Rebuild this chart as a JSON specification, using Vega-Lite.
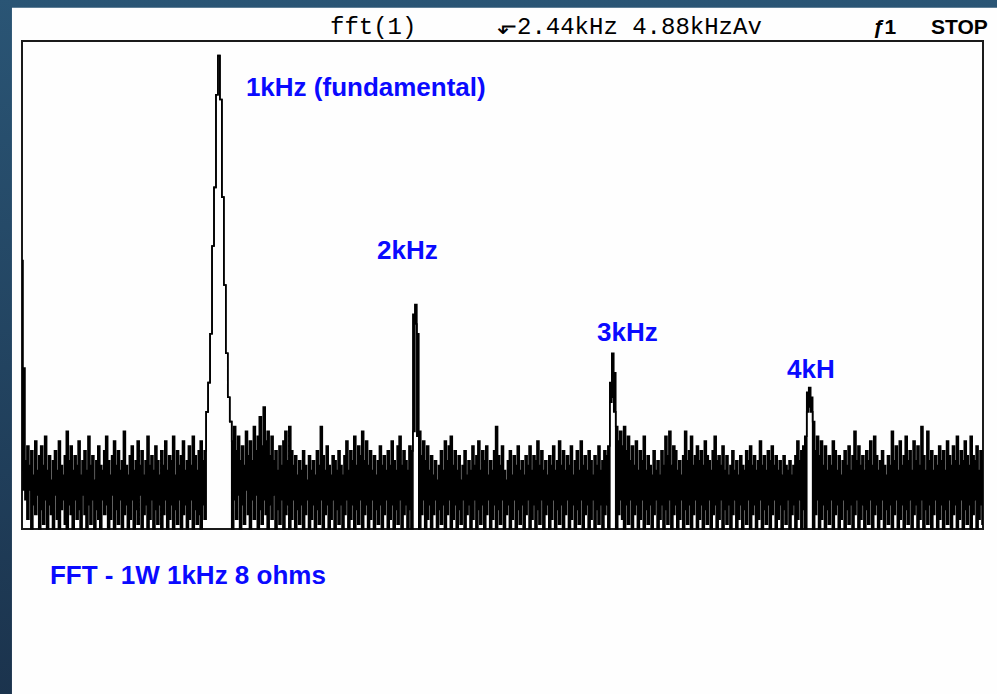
{
  "$schema": "https://vega.github.io/schema/vega-lite/v6.json",
  "width": 961,
  "height": 488,
  "autosize": {"type": "none"},
  "padding": {"left": 22, "top": 41, "right": 14, "bottom": 165},
  "background": "#24496a",
  "config": {"view": {"stroke": null}},
  "datasets": {
    "spectrum": [
      {"f":0,"lo":12,"hi":55},{"f":10,"lo":8,"hi":33},{"f":20,"lo":6,"hi":14},{"f":30,"lo":2,"hi":17},{"f":40,"lo":8,"hi":13},{"f":50,"lo":0,"hi":16},{"f":60,"lo":5,"hi":11},{"f":70,"lo":3,"hi":18},{"f":80,"lo":7,"hi":12},{"f":90,"lo":0,"hi":15},
      {"f":100,"lo":4,"hi":17},{"f":110,"lo":1,"hi":13},{"f":120,"lo":6,"hi":19},{"f":130,"lo":0,"hi":12},{"f":140,"lo":5,"hi":15},{"f":150,"lo":3,"hi":10},{"f":160,"lo":0,"hi":14},{"f":170,"lo":7,"hi":16},{"f":180,"lo":2,"hi":12},{"f":190,"lo":0,"hi":18},
      {"f":200,"lo":4,"hi":13},{"f":210,"lo":6,"hi":11},{"f":220,"lo":1,"hi":15},{"f":230,"lo":0,"hi":20},{"f":240,"lo":5,"hi":14},{"f":250,"lo":3,"hi":17},{"f":260,"lo":0,"hi":12},{"f":270,"lo":6,"hi":15},{"f":280,"lo":2,"hi":13},{"f":290,"lo":4,"hi":18},
      {"f":300,"lo":0,"hi":11},{"f":310,"lo":7,"hi":14},{"f":320,"lo":3,"hi":16},{"f":330,"lo":0,"hi":12},{"f":340,"lo":5,"hi":19},{"f":350,"lo":1,"hi":13},{"f":360,"lo":6,"hi":15},{"f":370,"lo":0,"hi":10},{"f":380,"lo":4,"hi":14},{"f":390,"lo":2,"hi":17},
      {"f":400,"lo":0,"hi":13},{"f":410,"lo":6,"hi":12},{"f":420,"lo":3,"hi":16},{"f":430,"lo":5,"hi":19},{"f":440,"lo":0,"hi":14},{"f":450,"lo":2,"hi":11},{"f":460,"lo":7,"hi":15},{"f":470,"lo":0,"hi":18},{"f":480,"lo":4,"hi":13},{"f":490,"lo":1,"hi":16},
      {"f":500,"lo":6,"hi":12},{"f":510,"lo":0,"hi":14},{"f":520,"lo":3,"hi":20},{"f":530,"lo":5,"hi":13},{"f":540,"lo":0,"hi":11},{"f":550,"lo":2,"hi":15},{"f":560,"lo":6,"hi":17},{"f":570,"lo":0,"hi":12},{"f":580,"lo":4,"hi":14},{"f":590,"lo":1,"hi":18},
      {"f":600,"lo":7,"hi":13},{"f":610,"lo":0,"hi":16},{"f":620,"lo":3,"hi":11},{"f":630,"lo":5,"hi":14},{"f":640,"lo":0,"hi":19},{"f":650,"lo":2,"hi":13},{"f":660,"lo":6,"hi":15},{"f":670,"lo":0,"hi":12},{"f":680,"lo":4,"hi":17},{"f":690,"lo":1,"hi":14},
      {"f":700,"lo":5,"hi":11},{"f":710,"lo":0,"hi":16},{"f":720,"lo":3,"hi":13},{"f":730,"lo":6,"hi":18},{"f":740,"lo":0,"hi":12},{"f":750,"lo":2,"hi":15},{"f":760,"lo":5,"hi":14},{"f":770,"lo":0,"hi":19},{"f":780,"lo":4,"hi":11},{"f":790,"lo":1,"hi":16},
      {"f":800,"lo":6,"hi":13},{"f":810,"lo":0,"hi":15},{"f":820,"lo":3,"hi":18},{"f":830,"lo":5,"hi":12},{"f":840,"lo":0,"hi":14},{"f":850,"lo":2,"hi":17},{"f":860,"lo":6,"hi":13},{"f":870,"lo":0,"hi":19},{"f":880,"lo":4,"hi":15},{"f":890,"lo":1,"hi":12},
      {"f":900,"lo":3,"hi":16},{"f":910,"lo":0,"hi":18},{"f":920,"lo":5,"hi":14},{"f":930,"lo":2,"hi":16},{"f":940,"lo":24,"hi":24},{"f":950,"lo":30,"hi":30},{"f":960,"lo":40,"hi":40},{"f":970,"lo":58,"hi":58},{"f":980,"lo":70,"hi":70},{"f":990,"lo":89,"hi":89},
      {"f":1000,"lo":97,"hi":97},{"f":1010,"lo":88,"hi":88},{"f":1020,"lo":68,"hi":68},{"f":1030,"lo":50,"hi":50},{"f":1040,"lo":36,"hi":36},{"f":1050,"lo":27,"hi":27},{"f":1060,"lo":22,"hi":22},{"f":1070,"lo":0,"hi":18},{"f":1080,"lo":6,"hi":21},{"f":1090,"lo":2,"hi":16},
      {"f":1100,"lo":7,"hi":19},{"f":1110,"lo":0,"hi":14},{"f":1120,"lo":5,"hi":17},{"f":1130,"lo":1,"hi":13},{"f":1140,"lo":8,"hi":20},{"f":1150,"lo":3,"hi":15},{"f":1160,"lo":0,"hi":18},{"f":1170,"lo":6,"hi":14},{"f":1180,"lo":2,"hi":21},{"f":1190,"lo":7,"hi":16},
      {"f":1200,"lo":0,"hi":19},{"f":1210,"lo":4,"hi":23},{"f":1220,"lo":1,"hi":17},{"f":1230,"lo":6,"hi":25},{"f":1240,"lo":3,"hi":18},{"f":1250,"lo":0,"hi":20},{"f":1260,"lo":5,"hi":15},{"f":1270,"lo":2,"hi":19},{"f":1280,"lo":7,"hi":14},{"f":1290,"lo":0,"hi":16},
      {"f":1300,"lo":4,"hi":12},{"f":1310,"lo":1,"hi":17},{"f":1320,"lo":6,"hi":13},{"f":1330,"lo":0,"hi":18},{"f":1340,"lo":3,"hi":20},{"f":1350,"lo":5,"hi":14},{"f":1360,"lo":0,"hi":21},{"f":1370,"lo":2,"hi":16},{"f":1380,"lo":6,"hi":13},{"f":1390,"lo":0,"hi":15},
      {"f":1400,"lo":4,"hi":11},{"f":1410,"lo":1,"hi":14},{"f":1420,"lo":5,"hi":12},{"f":1430,"lo":0,"hi":16},{"f":1440,"lo":3,"hi":13},{"f":1450,"lo":6,"hi":10},{"f":1460,"lo":0,"hi":15},{"f":1470,"lo":2,"hi":12},{"f":1480,"lo":5,"hi":14},{"f":1490,"lo":0,"hi":11},
      {"f":1500,"lo":4,"hi":16},{"f":1510,"lo":1,"hi":13},{"f":1520,"lo":6,"hi":21},{"f":1530,"lo":0,"hi":15},{"f":1540,"lo":3,"hi":12},{"f":1550,"lo":5,"hi":17},{"f":1560,"lo":0,"hi":13},{"f":1570,"lo":2,"hi":11},{"f":1580,"lo":6,"hi":15},{"f":1590,"lo":0,"hi":14},
      {"f":1600,"lo":4,"hi":12},{"f":1610,"lo":1,"hi":16},{"f":1620,"lo":5,"hi":13},{"f":1630,"lo":0,"hi":11},{"f":1640,"lo":3,"hi":15},{"f":1650,"lo":6,"hi":18},{"f":1660,"lo":0,"hi":12},{"f":1670,"lo":2,"hi":16},{"f":1680,"lo":5,"hi":14},{"f":1690,"lo":0,"hi":19},
      {"f":1700,"lo":4,"hi":13},{"f":1710,"lo":1,"hi":17},{"f":1720,"lo":6,"hi":15},{"f":1730,"lo":0,"hi":20},{"f":1740,"lo":3,"hi":14},{"f":1750,"lo":5,"hi":18},{"f":1760,"lo":0,"hi":13},{"f":1770,"lo":2,"hi":16},{"f":1780,"lo":6,"hi":12},{"f":1790,"lo":0,"hi":15},
      {"f":1800,"lo":4,"hi":11},{"f":1810,"lo":1,"hi":14},{"f":1820,"lo":5,"hi":17},{"f":1830,"lo":0,"hi":13},{"f":1840,"lo":3,"hi":15},{"f":1850,"lo":6,"hi":12},{"f":1860,"lo":0,"hi":16},{"f":1870,"lo":2,"hi":13},{"f":1880,"lo":5,"hi":18},{"f":1890,"lo":0,"hi":14},
      {"f":1900,"lo":4,"hi":12},{"f":1910,"lo":1,"hi":17},{"f":1920,"lo":6,"hi":19},{"f":1930,"lo":0,"hi":13},{"f":1940,"lo":3,"hi":16},{"f":1950,"lo":5,"hi":14},{"f":1960,"lo":0,"hi":12},{"f":1970,"lo":4,"hi":17},{"f":1980,"lo":0,"hi":16},{"f":1990,"lo":20,"hi":44},
      {"f":2000,"lo":42,"hi":46},{"f":2010,"lo":19,"hi":40},{"f":2020,"lo":0,"hi":20},{"f":2030,"lo":3,"hi":15},{"f":2040,"lo":6,"hi":18},{"f":2050,"lo":0,"hi":14},{"f":2060,"lo":2,"hi":17},{"f":2070,"lo":5,"hi":12},{"f":2080,"lo":0,"hi":15},{"f":2090,"lo":3,"hi":11},
      {"f":2100,"lo":6,"hi":14},{"f":2110,"lo":0,"hi":10},{"f":2120,"lo":4,"hi":13},{"f":2130,"lo":1,"hi":16},{"f":2140,"lo":5,"hi":12},{"f":2150,"lo":0,"hi":18},{"f":2160,"lo":3,"hi":14},{"f":2170,"lo":6,"hi":17},{"f":2180,"lo":0,"hi":19},{"f":2190,"lo":2,"hi":13},
      {"f":2200,"lo":5,"hi":16},{"f":2210,"lo":0,"hi":12},{"f":2220,"lo":4,"hi":15},{"f":2230,"lo":1,"hi":10},{"f":2240,"lo":6,"hi":13},{"f":2250,"lo":0,"hi":16},{"f":2260,"lo":3,"hi":11},{"f":2270,"lo":5,"hi":14},{"f":2280,"lo":0,"hi":12},{"f":2290,"lo":2,"hi":17},
      {"f":2300,"lo":6,"hi":13},{"f":2310,"lo":0,"hi":15},{"f":2320,"lo":4,"hi":18},{"f":2330,"lo":1,"hi":12},{"f":2340,"lo":5,"hi":16},{"f":2350,"lo":0,"hi":14},{"f":2360,"lo":3,"hi":17},{"f":2370,"lo":6,"hi":11},{"f":2380,"lo":0,"hi":14},{"f":2390,"lo":2,"hi":12},
      {"f":2400,"lo":5,"hi":16},{"f":2410,"lo":0,"hi":21},{"f":2420,"lo":4,"hi":15},{"f":2430,"lo":1,"hi":13},{"f":2440,"lo":6,"hi":17},{"f":2450,"lo":0,"hi":12},{"f":2460,"lo":3,"hi":10},{"f":2470,"lo":5,"hi":14},{"f":2480,"lo":0,"hi":16},{"f":2490,"lo":2,"hi":11},
      {"f":2500,"lo":6,"hi":15},{"f":2510,"lo":0,"hi":13},{"f":2520,"lo":4,"hi":17},{"f":2530,"lo":1,"hi":12},{"f":2540,"lo":5,"hi":14},{"f":2550,"lo":0,"hi":11},{"f":2560,"lo":3,"hi":15},{"f":2570,"lo":6,"hi":13},{"f":2580,"lo":0,"hi":17},{"f":2590,"lo":2,"hi":12},
      {"f":2600,"lo":5,"hi":15},{"f":2610,"lo":0,"hi":14},{"f":2620,"lo":4,"hi":18},{"f":2630,"lo":1,"hi":13},{"f":2640,"lo":6,"hi":16},{"f":2650,"lo":0,"hi":12},{"f":2660,"lo":3,"hi":14},{"f":2670,"lo":5,"hi":11},{"f":2680,"lo":0,"hi":15},{"f":2690,"lo":2,"hi":13},
      {"f":2700,"lo":6,"hi":17},{"f":2710,"lo":0,"hi":12},{"f":2720,"lo":4,"hi":14},{"f":2730,"lo":1,"hi":18},{"f":2740,"lo":5,"hi":13},{"f":2750,"lo":0,"hi":16},{"f":2760,"lo":3,"hi":12},{"f":2770,"lo":6,"hi":15},{"f":2780,"lo":0,"hi":13},{"f":2790,"lo":2,"hi":17},
      {"f":2800,"lo":5,"hi":11},{"f":2810,"lo":0,"hi":14},{"f":2820,"lo":4,"hi":16},{"f":2830,"lo":1,"hi":12},{"f":2840,"lo":6,"hi":18},{"f":2850,"lo":0,"hi":13},{"f":2860,"lo":3,"hi":15},{"f":2870,"lo":5,"hi":12},{"f":2880,"lo":0,"hi":16},{"f":2890,"lo":2,"hi":14},
      {"f":2900,"lo":6,"hi":11},{"f":2910,"lo":0,"hi":15},{"f":2920,"lo":4,"hi":13},{"f":2930,"lo":1,"hi":17},{"f":2940,"lo":5,"hi":12},{"f":2950,"lo":0,"hi":14},{"f":2960,"lo":3,"hi":16},{"f":2970,"lo":5,"hi":15},{"f":2980,"lo":0,"hi":17},{"f":2990,"lo":26,"hi":30},
      {"f":3000,"lo":27,"hi":36},{"f":3010,"lo":24,"hi":32},{"f":3020,"lo":0,"hi":21},{"f":3030,"lo":3,"hi":18},{"f":3040,"lo":6,"hi":20},{"f":3050,"lo":2,"hi":17},{"f":3060,"lo":0,"hi":21},{"f":3070,"lo":5,"hi":16},{"f":3080,"lo":1,"hi":19},{"f":3090,"lo":6,"hi":14},
      {"f":3100,"lo":0,"hi":17},{"f":3110,"lo":3,"hi":13},{"f":3120,"lo":5,"hi":18},{"f":3130,"lo":0,"hi":12},{"f":3140,"lo":2,"hi":16},{"f":3150,"lo":6,"hi":14},{"f":3160,"lo":0,"hi":19},{"f":3170,"lo":4,"hi":12},{"f":3180,"lo":1,"hi":15},{"f":3190,"lo":5,"hi":13},
      {"f":3200,"lo":0,"hi":11},{"f":3210,"lo":3,"hi":16},{"f":3220,"lo":6,"hi":12},{"f":3230,"lo":0,"hi":14},{"f":3240,"lo":2,"hi":11},{"f":3250,"lo":5,"hi":16},{"f":3260,"lo":0,"hi":13},{"f":3270,"lo":4,"hi":19},{"f":3280,"lo":1,"hi":15},{"f":3290,"lo":6,"hi":20},
      {"f":3300,"lo":0,"hi":13},{"f":3310,"lo":3,"hi":17},{"f":3320,"lo":5,"hi":16},{"f":3330,"lo":0,"hi":12},{"f":3340,"lo":2,"hi":14},{"f":3350,"lo":6,"hi":11},{"f":3360,"lo":0,"hi":15},{"f":3370,"lo":4,"hi":20},{"f":3380,"lo":1,"hi":14},{"f":3390,"lo":5,"hi":16},
      {"f":3400,"lo":0,"hi":19},{"f":3410,"lo":3,"hi":13},{"f":3420,"lo":6,"hi":15},{"f":3430,"lo":0,"hi":17},{"f":3440,"lo":2,"hi":14},{"f":3450,"lo":5,"hi":16},{"f":3460,"lo":0,"hi":13},{"f":3470,"lo":4,"hi":18},{"f":3480,"lo":1,"hi":15},{"f":3490,"lo":6,"hi":14},
      {"f":3500,"lo":0,"hi":12},{"f":3510,"lo":3,"hi":16},{"f":3520,"lo":5,"hi":19},{"f":3530,"lo":0,"hi":14},{"f":3540,"lo":2,"hi":15},{"f":3550,"lo":6,"hi":13},{"f":3560,"lo":0,"hi":17},{"f":3570,"lo":4,"hi":12},{"f":3580,"lo":1,"hi":15},{"f":3590,"lo":5,"hi":11},
      {"f":3600,"lo":0,"hi":13},{"f":3610,"lo":3,"hi":16},{"f":3620,"lo":6,"hi":12},{"f":3630,"lo":0,"hi":14},{"f":3640,"lo":2,"hi":11},{"f":3650,"lo":5,"hi":15},{"f":3660,"lo":0,"hi":13},{"f":3670,"lo":4,"hi":12},{"f":3680,"lo":1,"hi":16},{"f":3690,"lo":6,"hi":14},
      {"f":3700,"lo":0,"hi":17},{"f":3710,"lo":3,"hi":13},{"f":3720,"lo":5,"hi":15},{"f":3730,"lo":0,"hi":12},{"f":3740,"lo":2,"hi":14},{"f":3750,"lo":6,"hi":18},{"f":3760,"lo":0,"hi":13},{"f":3770,"lo":4,"hi":15},{"f":3780,"lo":1,"hi":12},{"f":3790,"lo":5,"hi":16},
      {"f":3800,"lo":0,"hi":14},{"f":3810,"lo":3,"hi":17},{"f":3820,"lo":6,"hi":13},{"f":3830,"lo":0,"hi":15},{"f":3840,"lo":2,"hi":12},{"f":3850,"lo":5,"hi":14},{"f":3860,"lo":0,"hi":11},{"f":3870,"lo":4,"hi":15},{"f":3880,"lo":1,"hi":13},{"f":3890,"lo":6,"hi":12},
      {"f":3900,"lo":0,"hi":14},{"f":3910,"lo":3,"hi":11},{"f":3920,"lo":5,"hi":13},{"f":3930,"lo":0,"hi":15},{"f":3940,"lo":2,"hi":18},{"f":3950,"lo":6,"hi":14},{"f":3960,"lo":0,"hi":16},{"f":3970,"lo":4,"hi":17},{"f":3980,"lo":0,"hi":19},{"f":3990,"lo":24,"hi":28},
      {"f":4000,"lo":25,"hi":29},{"f":4010,"lo":24,"hi":27},{"f":4020,"lo":0,"hi":22},{"f":4030,"lo":3,"hi":16},{"f":4040,"lo":6,"hi":19},{"f":4050,"lo":0,"hi":15},{"f":4060,"lo":2,"hi":18},{"f":4070,"lo":5,"hi":13},{"f":4080,"lo":0,"hi":17},{"f":4090,"lo":4,"hi":12},
      {"f":4100,"lo":1,"hi":15},{"f":4110,"lo":6,"hi":13},{"f":4120,"lo":0,"hi":18},{"f":4130,"lo":3,"hi":16},{"f":4140,"lo":5,"hi":12},{"f":4150,"lo":0,"hi":15},{"f":4160,"lo":2,"hi":11},{"f":4170,"lo":6,"hi":14},{"f":4180,"lo":0,"hi":16},{"f":4190,"lo":4,"hi":13},
      {"f":4200,"lo":1,"hi":17},{"f":4210,"lo":5,"hi":12},{"f":4220,"lo":0,"hi":15},{"f":4230,"lo":3,"hi":20},{"f":4240,"lo":6,"hi":14},{"f":4250,"lo":0,"hi":17},{"f":4260,"lo":2,"hi":13},{"f":4270,"lo":5,"hi":15},{"f":4280,"lo":0,"hi":12},{"f":4290,"lo":4,"hi":16},
      {"f":4300,"lo":1,"hi":14},{"f":4310,"lo":6,"hi":18},{"f":4320,"lo":0,"hi":13},{"f":4330,"lo":3,"hi":19},{"f":4340,"lo":5,"hi":15},{"f":4350,"lo":0,"hi":12},{"f":4360,"lo":2,"hi":14},{"f":4370,"lo":6,"hi":16},{"f":4380,"lo":0,"hi":13},{"f":4390,"lo":4,"hi":11},
      {"f":4400,"lo":1,"hi":15},{"f":4410,"lo":5,"hi":13},{"f":4420,"lo":0,"hi":20},{"f":4430,"lo":3,"hi":14},{"f":4440,"lo":6,"hi":17},{"f":4450,"lo":0,"hi":12},{"f":4460,"lo":2,"hi":18},{"f":4470,"lo":5,"hi":13},{"f":4480,"lo":0,"hi":15},{"f":4490,"lo":4,"hi":19},
      {"f":4500,"lo":1,"hi":14},{"f":4510,"lo":6,"hi":16},{"f":4520,"lo":0,"hi":12},{"f":4530,"lo":3,"hi":18},{"f":4540,"lo":5,"hi":14},{"f":4550,"lo":0,"hi":17},{"f":4560,"lo":2,"hi":13},{"f":4570,"lo":6,"hi":21},{"f":4580,"lo":0,"hi":15},{"f":4590,"lo":4,"hi":12},
      {"f":4600,"lo":1,"hi":20},{"f":4610,"lo":5,"hi":14},{"f":4620,"lo":0,"hi":16},{"f":4630,"lo":3,"hi":12},{"f":4640,"lo":6,"hi":15},{"f":4650,"lo":0,"hi":13},{"f":4660,"lo":2,"hi":17},{"f":4670,"lo":5,"hi":14},{"f":4680,"lo":0,"hi":16},{"f":4690,"lo":4,"hi":12},
      {"f":4700,"lo":1,"hi":18},{"f":4710,"lo":6,"hi":15},{"f":4720,"lo":0,"hi":13},{"f":4730,"lo":3,"hi":17},{"f":4740,"lo":5,"hi":14},{"f":4750,"lo":0,"hi":19},{"f":4760,"lo":2,"hi":13},{"f":4770,"lo":6,"hi":16},{"f":4780,"lo":0,"hi":14},{"f":4790,"lo":4,"hi":18},
      {"f":4800,"lo":1,"hi":15},{"f":4810,"lo":5,"hi":13},{"f":4820,"lo":0,"hi":19},{"f":4830,"lo":3,"hi":15},{"f":4840,"lo":6,"hi":14},{"f":4850,"lo":0,"hi":17},{"f":4860,"lo":2,"hi":12},{"f":4870,"lo":5,"hi":16},{"f":4880,"lo":1,"hi":14}
    ],
    "labels": [
      {"f":1137,"v":88.8,"t":"1kHz (fundamental)"},
      {"f":1803,"v":55.3,"t":"2kHz"},
      {"f":2920,"v":38.5,"t":"3kHz"},
      {"f":3885,"v":30.9,"t":"4kH"},
      {"f":142,"v":-11.3,"t":"FFT - 1W 1kHz 8 ohms"}
    ],
    "header": [
      {"f":1564,"v":101.4,"t":"fft(1)"},
      {"f":2412,"v":101.4,"t":"⬐2.44kHz 4.88kHzAv"}
    ],
    "status": [
      {"f":4321,"v":101.4,"t":"ƒ1"},
      {"f":4616,"v":101.4,"t":"STOP"}
    ]
  },
  "layer": [
    {
      "data": {"values": [{}]},
      "mark": {"type": "rect", "color": {"gradient": "linear", "x1": 0, "y1": 0, "x2": 0, "y2": 1, "stops": [{"offset": 0, "color": "#2a5575"}, {"offset": 1, "color": "#1b334d"}]}},
      "encoding": {
        "x": {"datum": -115, "type": "quantitative", "scale": {"domain": [0, 4880], "nice": false, "zero": false}, "axis": null},
        "x2": {"datum": 4960},
        "y": {"datum": 109, "type": "quantitative", "scale": {"domain": [0, 100], "nice": false, "zero": false}, "axis": null},
        "y2": {"datum": -35}
      }
    },
    {
      "data": {"values": [{}]},
      "mark": {"type": "rect", "color": "#fefefe"},
      "encoding": {
        "x": {"datum": -51, "type": "quantitative"},
        "x2": {"datum": 4960},
        "y": {"datum": 106.8, "type": "quantitative"},
        "y2": {"datum": -35}
      }
    },
    {
      "data": {"values": [{}]},
      "mark": {"type": "rect", "fill": null, "fillOpacity": 0, "stroke": "#1a1a1a", "strokeWidth": 2},
      "encoding": {
        "x": {"datum": 0, "type": "quantitative"},
        "x2": {"datum": 4880},
        "y": {"datum": 100, "type": "quantitative"},
        "y2": {"datum": 0}
      }
    },
    {
      "data": {"name": "spectrum"},
      "mark": {"type": "area", "interpolate": "step", "color": "#000000"},
      "encoding": {
        "x": {"field": "f", "type": "quantitative"},
        "y": {"field": "hi", "type": "quantitative"},
        "y2": {"field": "lo"}
      }
    },
    {
      "data": {"name": "spectrum"},
      "mark": {"type": "line", "interpolate": "step", "color": "#000000", "strokeWidth": 1.6},
      "encoding": {
        "x": {"field": "f", "type": "quantitative"},
        "y": {"field": "hi", "type": "quantitative"}
      }
    },
    {
      "data": {"name": "spectrum"},
      "mark": {"type": "line", "interpolate": "step", "color": "#000000", "strokeWidth": 1.6},
      "encoding": {
        "x": {"field": "f", "type": "quantitative"},
        "y": {"field": "lo", "type": "quantitative"}
      }
    },
    {
      "data": {"name": "labels"},
      "mark": {"type": "text", "align": "left", "baseline": "alphabetic", "font": "Liberation Sans", "fontWeight": "bold", "fontSize": 26, "color": "#0a0aff"},
      "encoding": {
        "x": {"field": "f", "type": "quantitative"},
        "y": {"field": "v", "type": "quantitative"},
        "text": {"field": "t"}
      }
    },
    {
      "data": {"name": "header"},
      "mark": {"type": "text", "align": "left", "baseline": "alphabetic", "font": "Liberation Mono", "fontSize": 24, "color": "#000000"},
      "encoding": {
        "x": {"field": "f", "type": "quantitative"},
        "y": {"field": "v", "type": "quantitative"},
        "text": {"field": "t"}
      }
    },
    {
      "data": {"name": "status"},
      "mark": {"type": "text", "align": "left", "baseline": "alphabetic", "font": "Liberation Sans", "fontWeight": "bold", "fontSize": 21, "color": "#000000"},
      "encoding": {
        "x": {"field": "f", "type": "quantitative"},
        "y": {"field": "v", "type": "quantitative"},
        "text": {"field": "t"}
      }
    }
  ]
}
